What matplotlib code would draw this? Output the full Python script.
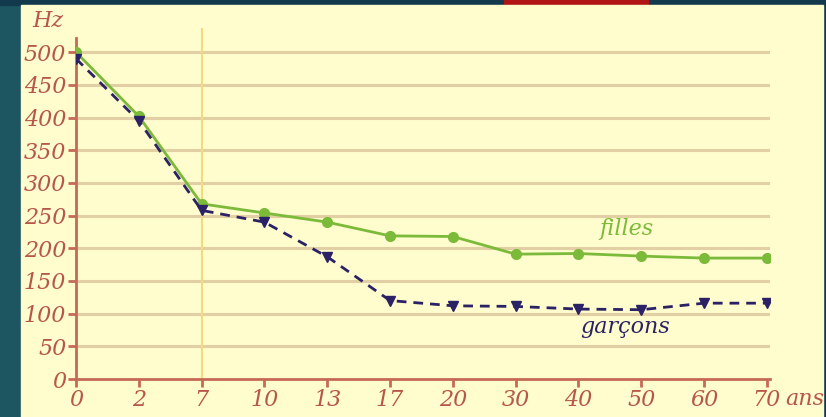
import matplotlib.pyplot as plt
from matplotlib.patches import Rectangle

# Data
ages = ["0", "2", "7", "10", "13", "17", "20", "30", "40", "50", "60", "70"]
filles = [500, 402, 268, 254, 240, 219, 218, 191, 192, 188, 185, 185]
garcons = [490, 395, 258, 240, 187, 120, 112, 111, 107, 106, 116, 116]
yticks = [0, 50, 100, 150, 200, 250, 300, 350, 400, 450, 500]

cream = "#fffccd"
brown = "#b5574a"
green = "#7cba3a"
navy = "#2b2266"

W, H = 826, 417
fig = plt.figure(figsize=(W / 100, H / 100), dpi=100)
fig.patch.set_facecolor("#1d5660")

# background panel and decorations (behind the axes)
def add_rect(x0, y0, w, h, c):
    fig.patches.append(Rectangle((x0 / W, 1 - (y0 + h) / H), w / W, h / H,
                                 transform=fig.transFigure, color=c, zorder=-5))

add_rect(0, 0, W, 5, "#123a4c")
add_rect(504, 0, 144, 5, "#b01414")
add_rect(823, 0, 3, H, "#123a4c")
add_rect(21, 5, 802, H - 5, cream)

x = list(range(len(ages)))
ax = fig.add_axes([76 / W, 38 / H, 694 / W, 351 / H])
ax.set_facecolor("none")
ax.set_xlim(0, 11.05)
ax.set_ylim(0, 537)

for v in yticks[1:]:
    ax.axhline(v, color="#e2cfa4", lw=2.2, zorder=1)
ax.axvline(2, color="#f2dc7a", lw=1.5, zorder=1)

ax.plot(x, filles, color=green, lw=2, marker="o", ms=7, zorder=3)
ax.plot(x, garcons, color=navy, lw=2, ls=(0, (3.5, 2.5)), marker="v", ms=7, zorder=4)

for s in ["top", "right"]:
    ax.spines[s].set_visible(False)
for s in ["left", "bottom"]:
    ax.spines[s].set_color("#c56a56")
    ax.spines[s].set_linewidth(2)
ax.spines["left"].set_bounds(0, 522)

font = dict(family="DejaVu Serif", style="italic", size=16, color=brown)
ax.set_xticks(x)
ax.set_xticklabels(ages, **font)
ax.set_yticks(yticks)
ax.set_yticklabels([str(v) for v in yticks], **font)
ax.tick_params(axis="both", colors="#c56a56", width=2, length=6, pad=1)
ax.tick_params(axis="x", labelcolor=brown)
ax.tick_params(axis="y", labelcolor=brown)

ax.text(-0.45, 548, "Hz", ha="center", va="center", fontdict=font)
ax.text(11.6, -31, "ans", ha="center", va="center", fontdict=font)
ax.text(8.77, 230, "filles", ha="center", va="center", family="DejaVu Serif",
        style="italic", size=16, color=green)
ax.text(8.74, 80, "garçons", ha="center", va="center", family="DejaVu Serif",
        style="italic", size=16, color=navy)

fig.savefig("out.png", dpi=100, facecolor=fig.get_facecolor())
